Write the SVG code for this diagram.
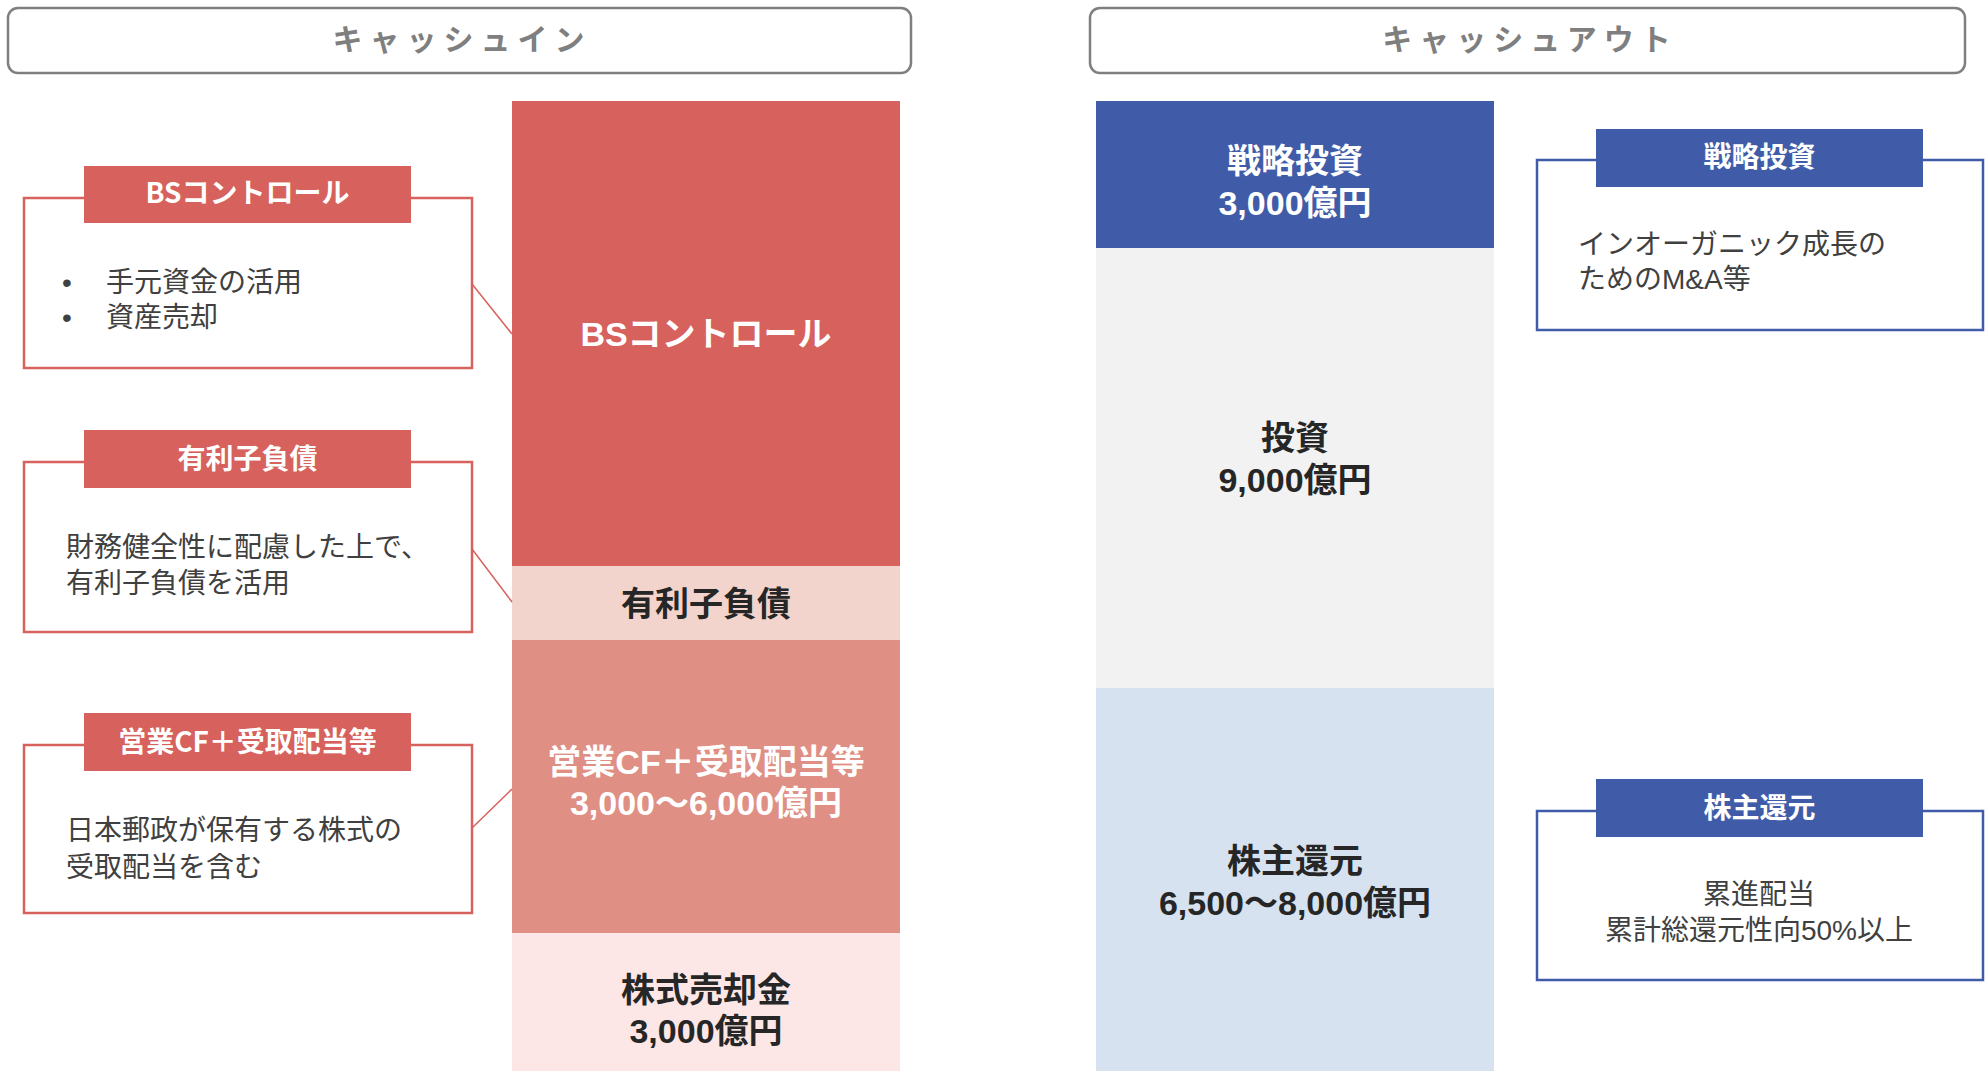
<svg xmlns="http://www.w3.org/2000/svg" width="1986" height="1071" viewBox="0 0 1986 1071">
<style>
text{font-family:"Noto Sans CJK JP","Liberation Sans",sans-serif;}
.hdr{fill:#fff;stroke:#7f7f7f;stroke-width:2.5;}
.hdrt{font-size:30px;fill:#7f7f7f;font-weight:bold;letter-spacing:7px;text-anchor:middle;}
.bar{font-family:"Liberation Sans","Noto Sans CJK JP",sans-serif;font-size:34px;font-weight:bold;text-anchor:middle;}
.w{fill:#ffffff;}
.d{fill:#262626;}
.rbox{fill:#fff;stroke:#d7615c;stroke-width:2.5;}
.bbox{fill:#fff;stroke:#405ca8;stroke-width:2.5;}
.rtab{fill:#d7615c;}
.btab{fill:#405ca8;}
.tabt{font-size:28px;font-weight:bold;fill:#fff;text-anchor:middle;}
.body{font-family:"Liberation Sans","Noto Sans CJK JP",sans-serif;font-size:28px;fill:#404040;}
.conn{stroke:#d7615c;stroke-width:1.5;fill:none;}
</style>

<g id="header-in">
<rect class="hdr" x="8" y="8" width="903" height="65" rx="10"/>
<text class="hdrt" x="462" y="50">キャッシュイン</text>
</g>
<g id="header-out">
<rect class="hdr" x="1090" y="8" width="875" height="65" rx="10"/>
<text class="hdrt" x="1530" y="50">キャッシュアウト</text>
</g>

<g id="bar-bs">
<rect x="512" y="101" width="388" height="465" fill="#d7615c"/>
<text class="bar w" x="706" y="346">BSコントロール</text>
</g>
<g id="bar-debt">
<rect x="512" y="566" width="388" height="74" fill="#f2d4cc"/>
<text class="bar d" x="706" y="616">有利子負債</text>
</g>
<g id="bar-cf">
<rect x="512" y="640" width="388" height="293" fill="#e08f85"/>
<text class="bar w" x="706" y="774">営業CF＋受取配当等<tspan x="706" dy="41">3,000～6,000億円</tspan></text>
</g>
<g id="bar-sale">
<rect x="512" y="933" width="388" height="138" fill="#fce6e6"/>
<text class="bar d" x="706" y="1002">株式売却金<tspan x="706" dy="41">3,000億円</tspan></text>
</g>

<g id="bar-strategic">
<rect x="1096" y="101" width="398" height="147" fill="#405ca8"/>
<text class="bar w" x="1295" y="173">戦略投資<tspan x="1295" dy="42">3,000億円</tspan></text>
</g>
<g id="bar-invest">
<rect x="1096" y="248" width="398" height="440" fill="#f2f2f2"/>
<text class="bar d" x="1295" y="450">投資<tspan x="1295" dy="42">9,000億円</tspan></text>
</g>
<g id="bar-return">
<rect x="1096" y="688" width="398" height="383" fill="#d7e2f0"/>
<text class="bar d" x="1295" y="873">株主還元<tspan x="1295" dy="42">6,500～8,000億円</tspan></text>
</g>

<g id="connectors">
<line class="conn" x1="472" y1="284" x2="512" y2="334"/>
<line class="conn" x1="472" y1="549" x2="512" y2="602"/>
<line class="conn" x1="472" y1="828" x2="512" y2="789"/>
</g>

<g id="callout-bs">
<rect class="rbox" x="24" y="198" width="448" height="170"/>
<rect class="rtab" x="84" y="166" width="327" height="57"/>
<text class="tabt" x="247.5" y="203">BSコントロール</text>
<text class="body" x="62" y="292">•<tspan x="106">手元資金の活用</tspan><tspan x="62" dy="35">•</tspan><tspan x="106">資産売却</tspan></text>
</g>
<g id="callout-debt">
<rect class="rbox" x="24" y="462" width="448" height="170"/>
<rect class="rtab" x="84" y="430" width="327" height="58"/>
<text class="tabt" x="247.5" y="469">有利子負債</text>
<text class="body" x="66" y="557">財務健全性に配慮した上で、<tspan x="66" dy="36">有利子負債を活用</tspan></text>
</g>
<g id="callout-cf">
<rect class="rbox" x="24" y="745" width="448" height="168"/>
<rect class="rtab" x="84" y="713" width="327" height="58"/>
<text class="tabt" x="247.5" y="752">営業CF＋受取配当等</text>
<text class="body" x="66" y="840">日本郵政が保有する株式の<tspan x="66" dy="37">受取配当を含む</tspan></text>
</g>

<g id="callout-strategic">
<rect class="bbox" x="1537" y="160" width="446" height="170"/>
<rect class="btab" x="1596" y="129" width="327" height="58"/>
<text class="tabt" x="1759.5" y="167">戦略投資</text>
<text class="body" x="1578" y="254">インオーガニック成長の<tspan x="1578" dy="35">ためのM&amp;A等</tspan></text>
</g>
<g id="callout-return">
<rect class="bbox" x="1537" y="811" width="446" height="169"/>
<rect class="btab" x="1596" y="779" width="327" height="58"/>
<text class="tabt" x="1759.5" y="818">株主還元</text>
<text class="body" x="1759" y="904" text-anchor="middle">累進配当<tspan x="1759" dy="36">累計総還元性向50%以上</tspan></text>
</g>
</svg>
